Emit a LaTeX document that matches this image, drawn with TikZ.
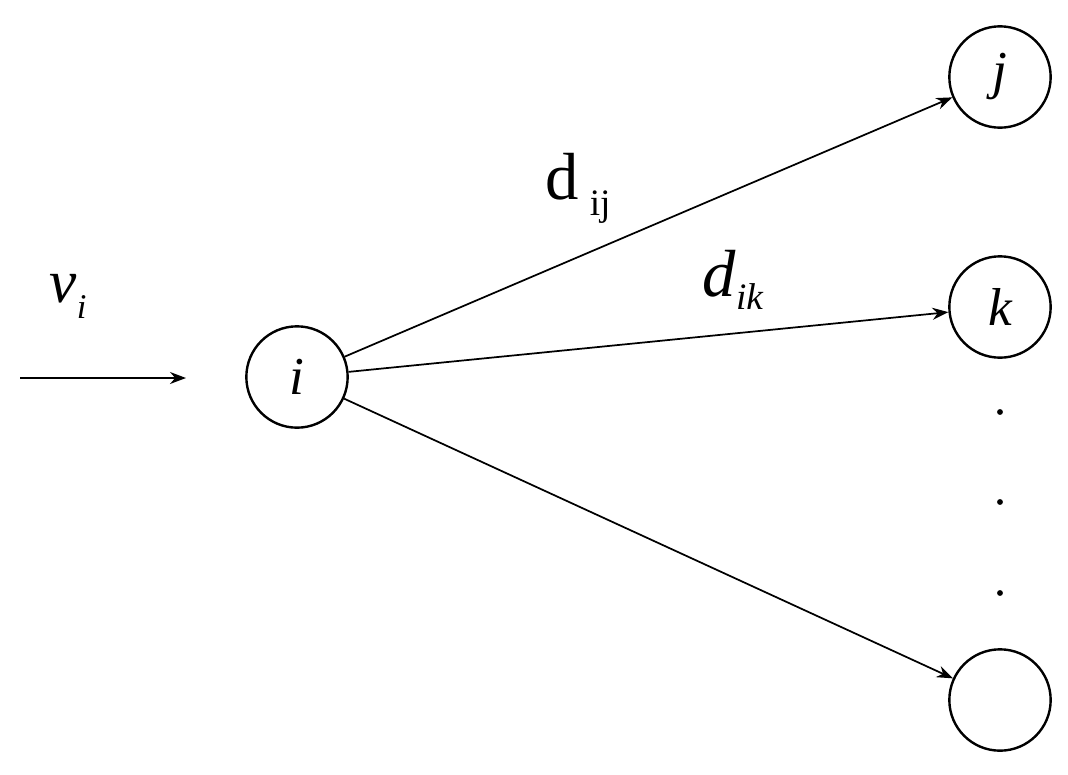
\documentclass[tikz,border=0pt]{standalone}
\usepackage{fontspec}
\setmainfont{Liberation Serif}
\usetikzlibrary{arrows.meta}
\tikzset{nd/.style={circle,draw,line width=1.8pt,minimum size=76pt,inner sep=0pt,font=\fontsize{40}{40}\selectfont\itshape},
ar/.style={line width=1.3pt,-{Stealth[length=12pt,width=9pt]}}}
\begin{document}
\begin{tikzpicture}[x=0.75pt,y=-0.75pt]
\useasboundingbox (0,0) rectangle (1068,775);
\node[nd] (i) at (297,377) {i};
\node[nd] (j) at (1000,77) {j};
\node[nd] (k) at (1000,307) {k};
\node[nd] (m) at (1000,700) {};
\coordinate (s) at (20,378);
\coordinate (t) at (186,378);
\draw[ar] (s) -- (t);
\draw[ar] (i) -- (j);
\draw[ar] (i) -- (k);
\draw[ar] (i) -- (m);
\foreach \y/\n in {412/a,502/b,593/c} \fill (1000,\y) circle (2.2pt);
\node[font=\fontsize{46}{46}\selectfont] (vi) at (68,296) {\textit{v}\raisebox{-12pt}{\fontsize{26}{26}\selectfont\textit{i}}};
\node[font=\fontsize{50}{50}\selectfont] (dij) at (578,188) {d\,\raisebox{-12pt}{\fontsize{28}{28}\selectfont ij}};
\node[font=\fontsize{50}{50}\selectfont] (dik) at (733,280) {\textit{d}\raisebox{-10pt}{\fontsize{28}{28}\selectfont\textit{ik}}};
\end{tikzpicture}
\end{document}
